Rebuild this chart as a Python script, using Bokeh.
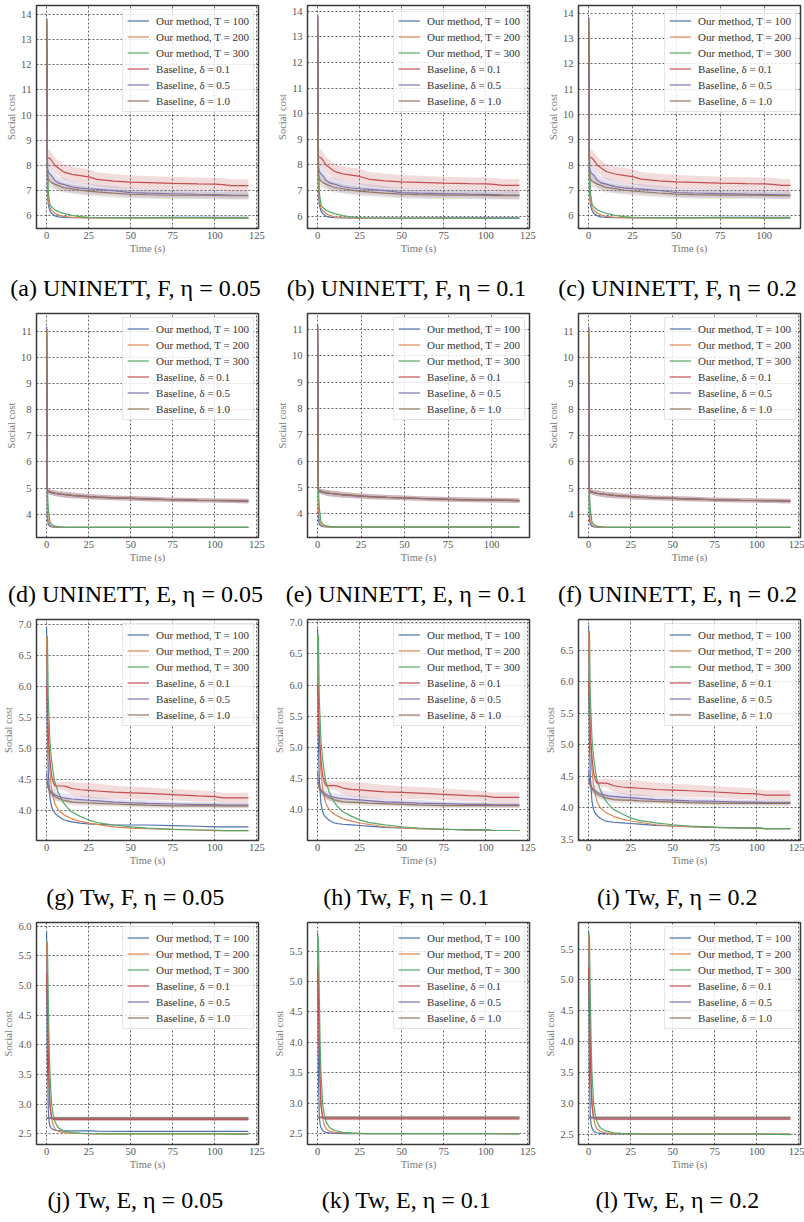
from bokeh.plotting import figure
from bokeh.layouts import column, row
from bokeh.models import FixedTicker, PrintfTickFormatter, Range1d, Label, Legend, LegendItem
from bokeh.embed import file_html
from bokeh.resources import INLINE

FONT = "Liberation Serif"
LABELS = ["Our method, T = 100", "Our method, T = 200", "Our method, T = 300",
          "Baseline, δ = 0.1", "Baseline, δ = 0.5", "Baseline, δ = 1.0"]
COLORS = ["#4c72b0", "#dd8452", "#55a868", "#c44e52", "#8172b3", "#937860"]
X_TICKS = [0, 25, 50, 75, 100, 125]

# ---------------- Row 1: UNINETT, F ----------------
t_r1 = [0, 0.5, 1, 2, 3, 5, 7, 10, 15, 20, 25, 30, 40, 50, 60, 75, 90, 100, 105, 110, 120]
t_r1c = [0, 0.5, 1, 2, 3, 5, 7, 10, 15, 20, 25, 30, 40, 50, 60, 75, 90, 100, 105, 110, 115]
r1_ours100 = [13.85, 7.0, 6.45, 6.2, 6.1, 6.0, 5.96, 5.94, 5.93, 5.93, 5.93, 5.93, 5.93, 5.93, 5.93, 5.94, 5.94, 5.94, 5.94, 5.94, 5.94]
r1_ours200 = [13.8, 7.6, 6.6, 6.32, 6.22, 6.1, 6.04, 5.98, 5.94, 5.93, 5.92, 5.92, 5.92, 5.92, 5.92, 5.92, 5.92, 5.92, 5.92, 5.92, 5.92]
r1_ours300 = [13.75, 8.2, 6.95, 6.45, 6.35, 6.24, 6.17, 6.1, 6.02, 5.97, 5.94, 5.93, 5.92, 5.92, 5.92, 5.92, 5.92, 5.91, 5.91, 5.91, 5.91]
r1_base01 = [13.8, 8.3, 8.3, 8.28, 8.2, 8.0, 7.9, 7.75, 7.65, 7.6, 7.55, 7.45, 7.38, 7.34, 7.32, 7.29, 7.27, 7.26, 7.24, 7.2, 7.2]
r1_base01_sd = [0.0, 0.35, 0.35, 0.33, 0.32, 0.3, 0.3, 0.3, 0.3, 0.3, 0.3, 0.28, 0.28, 0.27, 0.26, 0.25, 0.25, 0.25, 0.25, 0.25, 0.25]
r1_base05 = [13.8, 7.9, 7.75, 7.65, 7.6, 7.4, 7.3, 7.25, 7.15, 7.1, 7.07, 7.05, 7.0, 6.92, 6.9, 6.88, 6.86, 6.85, 6.84, 6.83, 6.82]
r1_base05_sd = [0.0, 0.5, 0.4, 0.32, 0.3, 0.28, 0.25, 0.25, 0.22, 0.2, 0.2, 0.2, 0.18, 0.18, 0.17, 0.17, 0.16, 0.16, 0.16, 0.16, 0.16]
r1_base10 = [13.8, 7.6, 7.45, 7.38, 7.32, 7.25, 7.2, 7.12, 7.07, 7.02, 6.98, 6.95, 6.9, 6.86, 6.84, 6.82, 6.82, 6.81, 6.8, 6.8, 6.8]
r1_base10_sd = [0.0, 0.4, 0.3, 0.25, 0.22, 0.2, 0.2, 0.2, 0.18, 0.18, 0.18, 0.17, 0.17, 0.16, 0.16, 0.16, 0.15, 0.15, 0.15, 0.15, 0.15]
r1_yticks = [6, 7, 8, 9, 10, 11, 12, 13, 14]

# ---------------- Row 2: UNINETT, E ----------------
t_r2 = [0, 0.5, 1, 2, 3, 5, 7, 10, 15, 20, 25, 30, 40, 50, 60, 75, 90, 100, 110, 120]
t_r2e = [0, 0.5, 1, 2, 3, 5, 7, 10, 15, 20, 25, 30, 40, 50, 60, 75, 90, 100, 110, 116]
r2_ours100 = [11.2, 3.8, 3.6, 3.53, 3.51, 3.5, 3.49, 3.49, 3.49, 3.49, 3.49, 3.49, 3.49, 3.49, 3.49, 3.49, 3.49, 3.49, 3.49, 3.49]
r2_ours200 = [11.1, 4.3, 3.75, 3.58, 3.54, 3.51, 3.5, 3.49, 3.49, 3.49, 3.49, 3.49, 3.49, 3.49, 3.49, 3.49, 3.49, 3.49, 3.49, 3.49]
r2_ours300 = [11.1, 4.9, 4.2, 3.7, 3.6, 3.54, 3.52, 3.5, 3.49, 3.49, 3.49, 3.49, 3.49, 3.49, 3.49, 3.49, 3.49, 3.49, 3.49, 3.49]
r2_base01 = [11.1, 4.92, 4.88, 4.85, 4.83, 4.8, 4.78, 4.76, 4.72, 4.7, 4.67, 4.65, 4.62, 4.6, 4.58, 4.55, 4.53, 4.52, 4.51, 4.5]
r2_base05 = [11.1, 4.9, 4.87, 4.84, 4.82, 4.79, 4.77, 4.75, 4.72, 4.69, 4.67, 4.65, 4.62, 4.6, 4.58, 4.55, 4.53, 4.52, 4.51, 4.5]
r2_base10 = [11.1, 4.9, 4.86, 4.84, 4.82, 4.8, 4.78, 4.75, 4.72, 4.7, 4.67, 4.65, 4.62, 4.6, 4.57, 4.55, 4.53, 4.52, 4.51, 4.5]
r2_base_sd = [0.0, 0.1, 0.1, 0.1, 0.1, 0.11, 0.11, 0.11, 0.11, 0.1, 0.1, 0.1, 0.09, 0.09, 0.09, 0.09, 0.09, 0.09, 0.09, 0.09]
r2_yticks = [4, 5, 6, 7, 8, 9, 10, 11]

# ---------------- Row 3: Tw, F ----------------
t_r3 = [0, 0.5, 1, 2, 3, 4, 5, 7, 10, 12, 15, 20, 25, 30, 40, 50, 60, 75, 90, 100, 105, 110, 120]
g_ours100 = [6.95, 5.3, 4.6, 4.2, 4.05, 3.99, 3.95, 3.9, 3.85, 3.83, 3.81, 3.79, 3.78, 3.77, 3.76, 3.76, 3.76, 3.75, 3.74, 3.73, 3.73, 3.73, 3.73]
hi_ours100 = [6.9, 5.1, 4.5, 4.1, 3.97, 3.91, 3.88, 3.83, 3.79, 3.78, 3.77, 3.76, 3.75, 3.74, 3.72, 3.71, 3.7, 3.69, 3.68, 3.68, 3.67, 3.67, 3.67]
r3_ours200 = [6.8, 5.8, 5.1, 4.6, 4.35, 4.2, 4.1, 4.0, 3.93, 3.9, 3.86, 3.82, 3.79, 3.77, 3.73, 3.71, 3.7, 3.69, 3.68, 3.67, 3.67, 3.67, 3.67]
r3_ours300 = [6.8, 6.8, 5.8, 5.1, 4.8, 4.6, 4.45, 4.28, 4.12, 4.05, 3.97, 3.9, 3.84, 3.8, 3.76, 3.73, 3.71, 3.69, 3.68, 3.68, 3.67, 3.67, 3.67]
r3_base01 = [6.0, 5.6, 5.2, 4.8, 4.55, 4.45, 4.39, 4.39, 4.39, 4.38, 4.35, 4.33, 4.32, 4.31, 4.29, 4.28, 4.27, 4.25, 4.23, 4.22, 4.2, 4.2, 4.2]
r3_base01_sd = [0.08, 0.08, 0.08, 0.08, 0.07, 0.07, 0.06, 0.06, 0.07, 0.08, 0.1, 0.11, 0.12, 0.12, 0.11, 0.1, 0.1, 0.09, 0.09, 0.08, 0.08, 0.08, 0.08]
r3_base05 = [4.6, 4.45, 4.38, 4.32, 4.29, 4.27, 4.25, 4.22, 4.2, 4.19, 4.18, 4.17, 4.16, 4.15, 4.13, 4.12, 4.11, 4.1, 4.09, 4.09, 4.08, 4.08, 4.08]
r3_base05_sd = [0.1, 0.1, 0.1, 0.09, 0.08, 0.08, 0.08, 0.07, 0.07, 0.07, 0.07, 0.06, 0.06, 0.06, 0.05, 0.05, 0.05, 0.04, 0.04, 0.04, 0.04, 0.04, 0.04]
r3_base10 = [4.45, 4.4, 4.35, 4.3, 4.27, 4.24, 4.22, 4.19, 4.16, 4.15, 4.13, 4.12, 4.12, 4.11, 4.1, 4.09, 4.08, 4.07, 4.07, 4.07, 4.07, 4.07, 4.07]
r3_base10_sd = [0.06, 0.06, 0.06, 0.05, 0.05, 0.05, 0.05, 0.05, 0.05, 0.05, 0.05, 0.05, 0.05, 0.05, 0.04, 0.04, 0.04, 0.04, 0.04, 0.04, 0.04, 0.04, 0.04]
r3_yticks = [3.5, 4.0, 4.5, 5.0, 5.5, 6.0, 6.5, 7.0]

# ---------------- Row 4: Tw, E ----------------
t_r4 = [0, 0.5, 1, 1.5, 2, 3, 4, 5, 7, 10, 15, 20, 25, 30, 50, 75, 100, 120]
j_ours100 = [5.9, 3.8, 2.9, 2.7, 2.63, 2.59, 2.57, 2.56, 2.555, 2.55, 2.55, 2.55, 2.55, 2.545, 2.54, 2.54, 2.54, 2.54]
kl_ours100 = [5.8, 3.5, 2.8, 2.65, 2.6, 2.55, 2.53, 2.52, 2.51, 2.505, 2.5, 2.5, 2.5, 2.5, 2.5, 2.5, 2.5, 2.5]
r4_ours200 = [5.75, 5.0, 4.0, 3.4, 3.05, 2.75, 2.64, 2.58, 2.54, 2.52, 2.51, 2.505, 2.5, 2.5, 2.5, 2.5, 2.5, 2.5]
r4_ours300 = [5.75, 5.7, 4.8, 4.0, 3.5, 3.0, 2.8, 2.7, 2.6, 2.55, 2.52, 2.51, 2.505, 2.5, 2.5, 2.5, 2.5, 2.49]
r4_base01 = [5.2, 4.5, 3.8, 3.3, 2.95, 2.76, 2.745, 2.74, 2.74, 2.74, 2.74, 2.74, 2.74, 2.74, 2.74, 2.74, 2.74, 2.74]
r4_base05 = [2.76, 2.76, 2.76, 2.76, 2.76, 2.76, 2.76, 2.76, 2.76, 2.76, 2.76, 2.76, 2.76, 2.76, 2.76, 2.76, 2.76, 2.76]
r4_base10 = [2.77, 2.77, 2.77, 2.77, 2.77, 2.77, 2.77, 2.77, 2.77, 2.77, 2.77, 2.77, 2.77, 2.77, 2.77, 2.77, 2.77, 2.77]
r4_base_sd = [0.02, 0.02, 0.02, 0.02, 0.02, 0.02, 0.02, 0.02, 0.02, 0.02, 0.02, 0.02, 0.02, 0.02, 0.02, 0.02, 0.02, 0.02]
r4_yticks = [2.5, 3.0, 3.5, 4.0, 4.5, 5.0, 5.5, 6.0]

CAPTIONS = [
    "(a) UNINETT, F, η = 0.05", "(b) UNINETT, F, η = 0.1", "(c) UNINETT, F, η = 0.2",
    "(d) UNINETT, E, η = 0.05", "(e) UNINETT, E, η = 0.1", "(f) UNINETT, E, η = 0.2",
    "(g) Tw, F, η = 0.05", "(h) Tw, F, η = 0.1", "(i) Tw, F, η = 0.2",
    "(j) Tw, E, η = 0.05", "(k) Tw, E, η = 0.1", "(l) Tw, E, η = 0.2",
]

r1_base = [(r1_base01, r1_base01_sd), (r1_base05, r1_base05_sd), (r1_base10, r1_base10_sd)]
r2_base = [(r2_base01, r2_base_sd), (r2_base05, r2_base_sd), (r2_base10, r2_base_sd)]
r3_base = [(r3_base01, r3_base01_sd), (r3_base05, r3_base05_sd), (r3_base10, r3_base10_sd)]
r4_base = [(r4_base01, r4_base_sd), (r4_base05, r4_base_sd), (r4_base10, r4_base_sd)]

SPECS = [
    dict(t=t_r1, ours=[r1_ours100, r1_ours200, r1_ours300], base=r1_base, xr=(-6, 126), yr=(5.5, 14.35), yt=r1_yticks, fmt="%d"),
    dict(t=t_r1, ours=[r1_ours100, r1_ours200, r1_ours300], base=r1_base, xr=(-6, 126), yr=(5.52, 14.22), yt=r1_yticks, fmt="%d"),
    dict(t=t_r1c, ours=[r1_ours100, r1_ours200, r1_ours300], base=r1_base, xr=(-5.75, 120.75), yr=(5.5, 14.3), yt=r1_yticks, fmt="%d"),
    dict(t=t_r2, ours=[r2_ours100, r2_ours200, r2_ours300], base=r2_base, xr=(-6, 126), yr=(3.1, 11.7), yt=r2_yticks, fmt="%d"),
    dict(t=t_r2e, ours=[r2_ours100, r2_ours200, r2_ours300], base=r2_base, xr=(-5.8, 121.8), yr=(3.1, 11.6), yt=r2_yticks, fmt="%d"),
    dict(t=t_r2, ours=[r2_ours100, r2_ours200, r2_ours300], base=r2_base, xr=(-6, 126), yr=(3.1, 11.7), yt=r2_yticks, fmt="%d"),
    dict(t=t_r3, ours=[g_ours100, r3_ours200, r3_ours300], base=r3_base, xr=(-6, 126), yr=(3.51, 7.08), yt=r3_yticks, fmt="%.1f"),
    dict(t=t_r3, ours=[hi_ours100, r3_ours200, r3_ours300], base=r3_base, xr=(-6, 126), yr=(3.51, 7.05), yt=r3_yticks, fmt="%.1f"),
    dict(t=t_r3, ours=[hi_ours100, r3_ours200, r3_ours300], base=r3_base, xr=(-6, 126), yr=(3.48, 6.99), yt=r3_yticks, fmt="%.1f"),
    dict(t=t_r4, ours=[j_ours100, r4_ours200, r4_ours300], base=r4_base, xr=(-6, 126), yr=(2.32, 6.06), yt=r4_yticks, fmt="%.1f"),
    dict(t=t_r4, ours=[kl_ours100, r4_ours200, r4_ours300], base=r4_base, xr=(-6, 126), yr=(2.32, 5.97), yt=r4_yticks, fmt="%.1f"),
    dict(t=t_r4, ours=[kl_ours100, r4_ours200, r4_ours300], base=r4_base, xr=(-6, 126), yr=(2.33, 5.93), yt=r4_yticks, fmt="%.1f"),
]

# layout geometry (pixels)
FRAME_W = 222
LEFT = 36
TOP = 5
BOTTOM = 34
WIDTHS = [271, 271, 262]
FRAME_H = [223, 224, 221, 222]        # plot-area height of each row
ROW_H = [308, 306, 303, 305]          # total height of each row (plots + caption strip)
CAP_Y = [21, 21, 21, 23]              # caption centre above bottom of its strip
CAP_X = 135


def build(spec, width, frame_h):
    t = spec["t"]
    p = figure(width=width, height=TOP + frame_h + BOTTOM, output_backend="svg", toolbar_location=None,
               x_range=Range1d(*spec["xr"]), y_range=Range1d(*spec["yr"]),
               min_border_left=LEFT, min_border_right=width - LEFT - FRAME_W,
               min_border_top=TOP, min_border_bottom=BOTTOM,
               background_fill_color="white", border_fill_color="white")
    for k, (mean, sd) in enumerate(spec["base"]):
        lo = [m - s for m, s in zip(mean, sd)]
        hi = [m + s for m, s in zip(mean, sd)]
        p.varea(x=t, y1=lo, y2=hi, fill_color=COLORS[3 + k], fill_alpha=0.2)
    rends = []
    for k, ys in enumerate(spec["ours"]):
        rends.append(p.line(t, ys, line_color=COLORS[k], line_width=1.2))
    for k, (mean, sd) in enumerate(spec["base"]):
        rends.append(p.line(t, mean, line_color=COLORS[3 + k], line_width=1.2))

    legend = Legend(items=[LegendItem(label=LABELS[i], renderers=[rends[i]]) for i in range(6)],
                    location="top_right", margin=4, padding=4, spacing=3,
                    glyph_width=22, glyph_height=13, label_height=13, label_standoff=7,
                    label_text_font=FONT, label_text_font_size="11px", label_text_color="#333333",
                    border_line_color="#cccccc", border_line_width=1,
                    background_fill_color="white", background_fill_alpha=0.8)
    p.add_layout(legend)

    p.xaxis.ticker = FixedTicker(ticks=X_TICKS)
    p.yaxis.ticker = FixedTicker(ticks=spec["yt"])
    p.yaxis.formatter = PrintfTickFormatter(format=spec["fmt"])
    p.xaxis.axis_label = "Time (s)"
    p.yaxis.axis_label = "Social cost"
    for ax in p.axis:
        ax.axis_line_color = None
        ax.major_tick_line_color = None
        ax.minor_tick_line_color = None
        ax.major_tick_out = 0
        ax.major_tick_in = 0
        ax.minor_tick_out = 0
        ax.minor_tick_in = 0
        ax.major_label_text_font = FONT
        ax.major_label_text_font_size = "10.5px"
        ax.major_label_text_color = "#555555"
        ax.axis_label_text_font = FONT
        ax.axis_label_text_font_size = "10.5px"
        ax.axis_label_text_font_style = "normal"
        ax.axis_label_text_color = "#777777"
        ax.axis_label_standoff = 1
    p.xaxis.major_label_standoff = 3
    p.yaxis.major_label_standoff = 5

    p.grid.grid_line_color = "black"
    p.grid.grid_line_alpha = 0.75
    p.grid.grid_line_dash = "2 2"
    p.grid.grid_line_width = 0.8
    p.outline_line_color = "#3a3a3a"
    p.outline_line_width = 1.5
    return p


def caption(text, width, height, cy):
    c = figure(width=width, height=height, output_backend="svg", toolbar_location=None,
               x_range=Range1d(0, width), y_range=Range1d(0, height),
               x_axis_type=None, y_axis_type=None, min_border=0,
               outline_line_color=None, background_fill_color="white", border_fill_color="white")
    c.grid.visible = False
    c.add_layout(Label(x=CAP_X, y=cy, text=text, text_align="center", text_baseline="middle",
                       text_font=FONT, text_font_size="24px", text_color="black"))
    return c


rows = []
for r in range(4):
    plot_h = TOP + FRAME_H[r] + BOTTOM
    cap_h = ROW_H[r] - plot_h
    plots = [build(SPECS[3 * r + c], WIDTHS[c], FRAME_H[r]) for c in range(3)]
    caps = [caption(CAPTIONS[3 * r + c], WIDTHS[c], cap_h, CAP_Y[r]) for c in range(3)]
    rows.append(row(*plots))
    rows.append(row(*caps))

layout = column(*rows)
open("out.html", "w").write(file_html(layout, INLINE))
